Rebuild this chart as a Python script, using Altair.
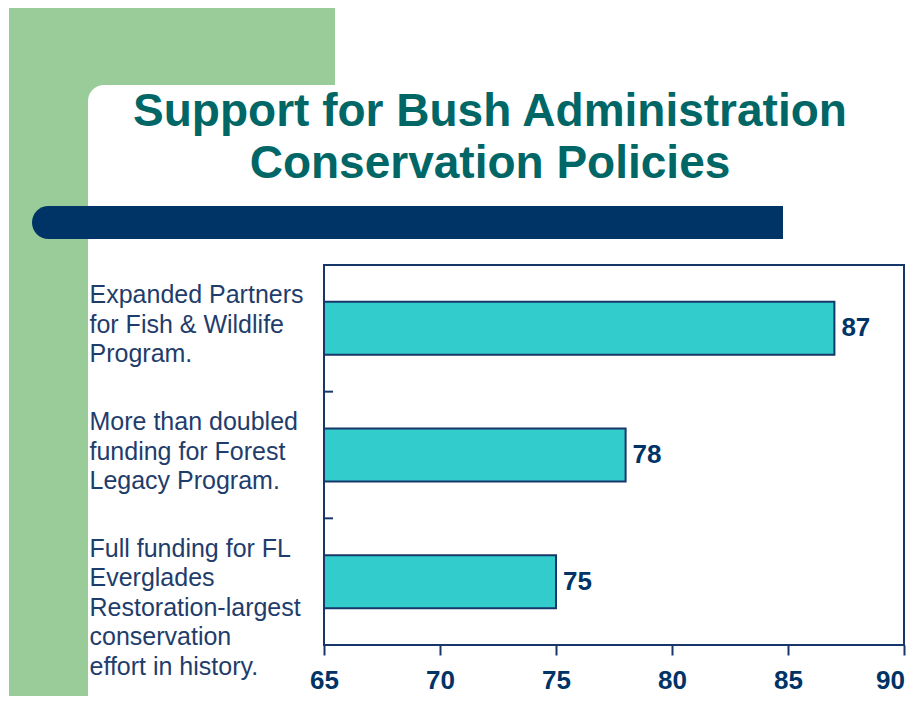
import altair as alt
import pandas as pd

# ---- data ----
categories = [
    "Expanded Partners|for Fish & Wildlife|Program.",
    "More than doubled|funding for Forest|Legacy Program.",
    "Full funding for FL|Everglades|Restoration-largest|conservation|effort in history.",
]
values = [87, 78, 75]
x_ticks = [65, 70, 75, 80, 85, 90]
x_domain = [65, 90]
boundaries = [1, 2]
title_lines = ["Support for Bush Administration", "Conservation Policies"]

# ---- style ----
GREEN = "#99CC99"
NAVY = "#003366"
LINE = "#17376A"
TEAL = "#006666"
BAR = "#33CCCC"
TXT = "#1F3D6B"
SANS = "Liberation Sans, Arial, sans-serif"

W, H = 580, 380
PAD = {"left": 316, "top": 257, "right": 4, "bottom": 51}

df = pd.DataFrame({"cat": categories, "val": values})
dummy = pd.DataFrame({"k": [0]})
bdf = pd.DataFrame({"b": boundaries})

ysc = alt.Scale(domain=categories, paddingInner=0.582, paddingOuter=0.291)
xsc = alt.Scale(domain=x_domain, zero=False, nice=False)

# decorations
green_top = alt.Chart(dummy).mark_rect(color=GREEN).encode(
    x=alt.value(-315), x2=alt.value(11), y=alt.value(-265), y2=alt.value(-165))
green_left = alt.Chart(dummy).mark_rect(color=GREEN).encode(
    x=alt.value(-315), x2=alt.value(-236), y=alt.value(-265), y2=alt.value(440))
white_corner = alt.Chart(dummy).mark_rect(color="white", cornerRadiusTopLeft=16).encode(
    x=alt.value(-236), x2=alt.value(40), y=alt.value(-180), y2=alt.value(-120))
navy_bar = alt.Chart(dummy).mark_rect(
    color=NAVY, cornerRadiusTopLeft=16.5, cornerRadiusBottomLeft=16.5).encode(
    x=alt.value(-292), x2=alt.value(459), y=alt.value(-59), y2=alt.value(-26))
title = alt.Chart(dummy).mark_text(
    align="center", baseline="alphabetic", lineHeight=52, font=SANS,
    fontSize=46, fontWeight="bold", color=TEAL).encode(
    x=alt.value(166), y=alt.value(-139), text=alt.value(title_lines))

bars = alt.Chart(df).mark_bar(color=BAR, stroke=LINE, strokeWidth=2).encode(
    y=alt.Y("cat:N", sort=categories, scale=ysc,
            axis=alt.Axis(title=None, domain=False, ticks=False, tickSize=0,
                          labelAlign="left", labelBaseline="top", labelOffset=-45,
                          labelPadding=235, labelFont=SANS, labelFontSize=25,
                          labelLineHeight=29.5, labelColor=TXT, labelLimit=400,
                          labelExpr="split(datum.label, '|')")),
    x=alt.X("val:Q", scale=xsc,
            axis=alt.Axis(values=x_ticks, title=None, domain=False, grid=False,
                          tickSize=10, tickColor=LINE, tickWidth=2,
                          labelFont=SANS, labelFontSize=26, labelFontWeight="bold",
                          labelColor=NAVY, labelPadding=12, labelFlush=False,
                          labelOffset=alt.condition("datum.value == 90", alt.value(-14), alt.value(0)))),
    x2=alt.datum(x_domain[0]),
)

labels = alt.Chart(df).mark_text(
    align="left", baseline="middle", dx=7, font=SANS, fontSize=26,
    fontWeight="bold", color=NAVY).encode(
    y=alt.Y("cat:N", sort=categories, scale=ysc, axis=None),
    x=alt.X("val:Q", scale=xsc),
    text=alt.Text("val:Q"),
)

yticks = alt.Chart(bdf).mark_rule(color=LINE, strokeWidth=2).encode(
    y=alt.Y("b:Q", scale=alt.Scale(domain=[0, 3]), axis=None),
    x=alt.value(0), x2=alt.value(9),
)

chart = alt.layer(
    green_top, green_left, white_corner, navy_bar, title, bars, labels, yticks
).resolve_scale(y="independent").properties(
    width=W, height=H, padding=PAD, autosize=alt.AutoSizeParams(type="none"),
    background="white",
).configure_view(stroke=LINE, strokeWidth=2)

chart.save("out.html", embed_options={"renderer": "svg", "actions": False})
